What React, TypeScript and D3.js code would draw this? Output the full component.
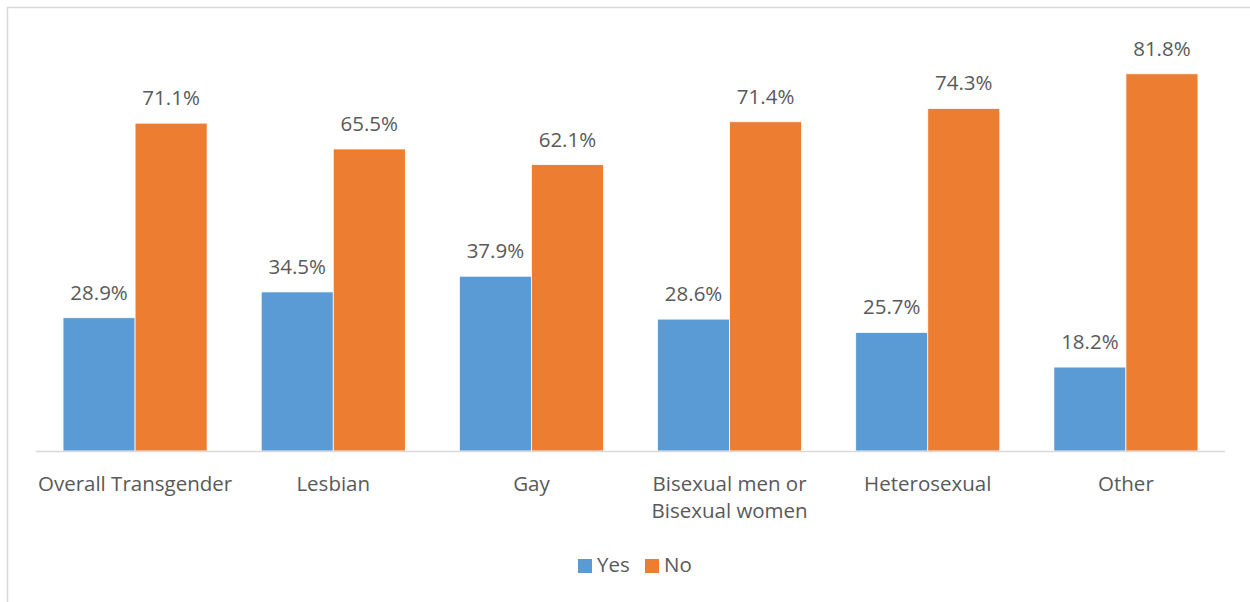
import React from "react";
import * as d3 from "d3";

const categories: string[][] = [
  ["Overall Transgender"],
  ["Lesbian"],
  ["Gay"],
  ["Bisexual men or", "Bisexual women"],
  ["Heterosexual"],
  ["Other"],
];
const yesValues = [28.9, 34.5, 37.9, 28.6, 25.7, 18.2];
const noValues = [71.1, 65.5, 62.1, 71.4, 74.3, 81.8];
const seriesNames = ["Yes", "No"];
const seriesColors = ["#5b9bd5", "#ed7d31"];

const W = 1250;
const H = 602;

export default function App() {
  const plotLeft = 36;
  const plotRight = 1225;
  const baseY = 451;
  const topY = 36;
  const keys = categories.map((c, i) => String(i));
  const x0 = d3.scaleBand<string>().domain(keys).range([plotLeft, plotRight]).paddingInner(0).paddingOuter(0);
  const groupW = x0.bandwidth() * 0.727;
  const x1 = d3.scaleBand<string>().domain(seriesNames).range([0, groupW]).padding(0);
  const y = d3.scaleLinear().domain([0, 90]).range([baseY, topY]);
  const series = [yesValues, noValues];
  const font = "'Open Sans', sans-serif";
  const textColor = "#595959";
  const fs = 20.5;

  return (
    <svg width={W} height={H} style={{ position: "absolute", left: 0, top: 0, background: "#fff" }}>
      <rect x={7.5} y={7.5} width={1260} height={620} fill="#fff" stroke="#d9d9d9" strokeWidth={1.5} />
      {keys.map((k, i) => {
        const gx = (x0(k) as number) + (x0.bandwidth() - groupW) / 2;
        return (
          <g key={k}>
            {series.map((vals, s) => {
              const bx = gx + (x1(seriesNames[s]) as number);
              const bw = x1.bandwidth();
              const v = vals[i];
              return (
                <g key={s}>
                  <rect x={bx} y={y(v)} width={bw} height={baseY - y(v)} fill={seriesColors[s]} stroke="#fff" strokeWidth={0.75} />
                  <text x={bx + bw / 2} y={y(v) - 18} textAnchor="middle" fontFamily={font} fontSize={fs} fill={textColor}>
                    {v.toFixed(1)}%
                  </text>
                </g>
              );
            })}
            {categories[i].map((line, li) => (
              <text key={li} x={(x0(k) as number) + x0.bandwidth() / 2} y={491 + li * 27} textAnchor="middle" fontFamily={font} fontSize={fs} fill={textColor}>
                {line}
              </text>
            ))}
          </g>
        );
      })}
      <line x1={plotLeft} x2={plotRight} y1={baseY + 0.5} y2={baseY + 0.5} stroke="#d9d9d9" strokeWidth={1.5} />
      <g>
        <rect x={578} y={559} width={14} height={14} fill={seriesColors[0]} />
        <text x={597} y={572} fontFamily={font} fontSize={fs} fill={textColor}>{seriesNames[0]}</text>
        <rect x={645} y={559} width={14} height={14} fill={seriesColors[1]} />
        <text x={664} y={572} fontFamily={font} fontSize={fs} fill={textColor}>{seriesNames[1]}</text>
      </g>
    </svg>
  );
}
